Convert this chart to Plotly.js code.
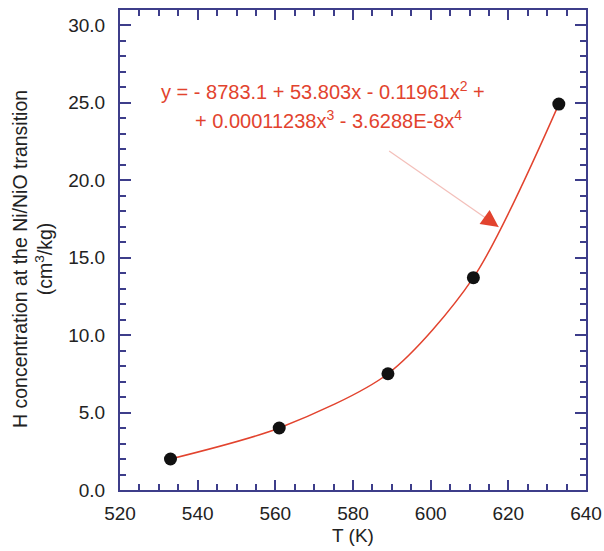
<!DOCTYPE html>
<html>
<head>
<meta charset="utf-8">
<script src="https://cdn.plot.ly/plotly-3.0.1.min.js"></script>
<style>html,body{margin:0;padding:0;background:#fff;}#chart{width:604px;height:551px;}</style>
</head>
<body>
<div id="chart"></div>
<script>
// Data
const temperatureK = [533, 561, 589, 611, 633];
const hConcentration = [2.0, 4.0, 7.5, 13.7, 24.9];
const xTickValues = [520, 540, 560, 580, 600, 620, 640];
const yTickValues = [0, 5, 10, 15, 20, 25, 30];
const eqLine1 = 'y = - 8783.1 + 53.803x - 0.11961x<sup>2</sup> +';
const eqLine2 = '+ 0.00011238x<sup>3</sup> - 3.6288E-8x<sup>4</sup>';
const xTitle = 'T (K)';
const yTitle = 'H concentration at the Ni/NiO transition<br>(cm<sup>3</sup>/kg)';

const axisColor = '#3d3d8a';
const red = '#e2432e';
const font = 'Liberation Sans, Arial, sans-serif';

const trace = {
  x: temperatureK,
  y: hConcentration,
  mode: 'lines+markers',
  type: 'scatter',
  line: {color: red, width: 1.5, shape: 'spline', smoothing: 0.8},
  marker: {color: '#111', size: 13},
  showlegend: false,
  hoverinfo: 'x+y'
};

const layout = {
  width: 604, height: 551,
  margin: {l: 120, r: 18, t: 10, b: 61},
  paper_bgcolor: '#fff', plot_bgcolor: '#fff',
  font: {family: font, color: '#222', size: 19},
  showlegend: false,
  xaxis: {
    range: [520, 640],
    tickvals: xTickValues,
    ticks: 'inside', ticklen: 10, tickwidth: 2, tickcolor: axisColor,
    minor: {dtick: 5, ticks: 'inside', ticklen: 6, tickwidth: 2, tickcolor: axisColor},
    showline: true, linecolor: axisColor, linewidth: 2, mirror: 'ticks',
    showgrid: false, zeroline: false,
    ticklabelstandoff: 5,
    tickfont: {size: 19, color: '#222'},
    title: {text: xTitle, font: {size: 19, color: '#222'}, standoff: 6}
  },
  yaxis: {
    range: [0, 30.97],
    tickvals: yTickValues,
    tickformat: '.1f',
    ticks: 'inside', ticklen: 11, tickwidth: 2, tickcolor: axisColor,
    minor: {dtick: 1, ticks: 'inside', ticklen: 6, tickwidth: 2, tickcolor: axisColor},
    showline: true, linecolor: axisColor, linewidth: 2, mirror: 'ticks',
    showgrid: false, zeroline: false,
    ticklabelstandoff: 9,
    tickfont: {size: 19, color: '#222'}
  },
  annotations: [
    {x: -0.188, y: 0.482, xref: 'paper', yref: 'paper', text: yTitle, showarrow: false,
     textangle: -90, align: 'center', xanchor: 'center', yanchor: 'middle',
     font: {size: 19.5, color: '#222'}},
    {x: 572.2, y: 25.8, xref: 'x', yref: 'y', text: eqLine1, showarrow: false,
     font: {size: 20, color: red}, xanchor: 'center', yanchor: 'middle'},
    {x: 573.7, y: 23.9, xref: 'x', yref: 'y', text: eqLine2, showarrow: false,
     font: {size: 20, color: red}, xanchor: 'center', yanchor: 'middle'},
    {x: 617.5, y: 16.97, xref: 'x', yref: 'y', text: '', showarrow: true,
     ax: -111, ay: -77, arrowhead: 0, arrowwidth: 1.2, arrowcolor: 'rgba(235,140,130,0.55)'},
    {x: 617.5, y: 16.97, xref: 'x', yref: 'y', text: '', showarrow: true,
     ax: -14, ay: -10, arrowhead: 2, arrowsize: 2.3, arrowwidth: 1.5, arrowcolor: red}
  ]
};

Plotly.newPlot('chart', [trace], layout, {staticPlot: true, displayModeBar: false});
</script>
</body>
</html>
